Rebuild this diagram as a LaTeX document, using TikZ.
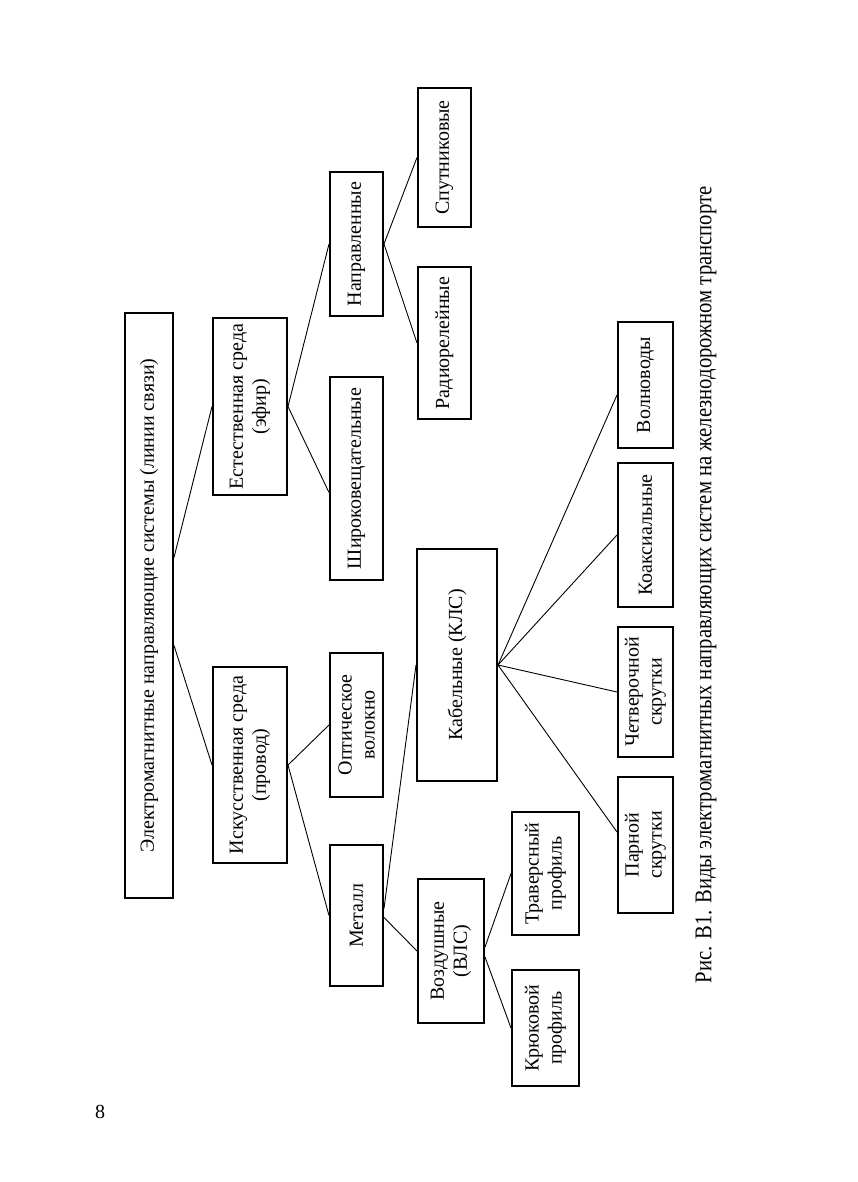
\documentclass[tikz,border=0pt]{standalone}
\usepackage{fontspec}
\setmainfont{Liberation Serif}
\newfontfamily\capfont[FakeStretch=0.86]{Liberation Serif}
\usetikzlibrary{calc}

\begin{document}
\begin{tikzpicture}[x=1pt,y=-1pt,
  blk/.style={draw, line width=2pt, rotate=90, inner sep=0pt, align=center,
    font=\fontsize{20}{23}\selectfont},
  link/.style={line width=0.9pt}]
\useasboundingbox (0,0) rectangle (857,1182);

\node[blk, minimum width=585pt, minimum height=48pt] (root) at (149,605.5) {Электромагнитные направляющие системы (линии связи)};

\node[blk, minimum width=177pt, minimum height=74pt] (est) at (250,406.5) {Естественная среда\\(эфир)};
\node[blk, minimum width=196pt, minimum height=74pt] (isk) at (250,765) {Искусственная среда\\(провод)};

\node[blk, minimum width=144pt, minimum height=53pt] (napr) at (356.5,244) {Направленные};
\node[blk, minimum width=203pt, minimum height=53pt] (shir) at (356.5,478.5) {Широковещательные};
\node[blk, minimum width=144pt, minimum height=53pt] (opt) at (356.5,725) {Оптическое\\волокно};
\node[blk, minimum width=141pt, minimum height=53pt] (metall) at (356.5,915.5) {Металл};

\node[blk, minimum width=139pt, minimum height=53pt] (sput) at (444.5,157.5) {Спутниковые};
\node[blk, minimum width=152pt, minimum height=53pt] (radio) at (444.5,343) {Радиорелейные};
\node[blk, minimum width=232pt, minimum height=80pt] (kab) at (457,665) {Кабельные (КЛС)};
\node[blk, minimum width=144pt, minimum height=66pt] (vozd) at (451,951) {Воздушные\\(ВЛС)};

\node[blk, minimum width=123pt, minimum height=67pt] (trav) at (545.5,873.5) {Траверсный\\профиль};
\node[blk, minimum width=116pt, minimum height=67pt] (kruk) at (545.5,1028) {Крюковой\\профиль};

\node[blk, minimum width=126pt, minimum height=55pt] (volno) at (645.5,385) {Волноводы};
\node[blk, minimum width=144pt, minimum height=55pt] (koax) at (645.5,535) {Коаксиальные};
\node[blk, minimum width=130pt, minimum height=55pt] (chetv) at (645.5,692) {Четверочной\\скрутки};
\node[blk, minimum width=136pt, minimum height=55pt] (parn) at (645.5,845) {Парной\\скрутки};

\draw[link] ($(root.south)+(0,-48)$) -- (est.north);
\draw[link] ($(root.south)+(0,40)$) -- (isk.north);
\draw[link] (est.south) -- (napr.north);
\draw[link] (est.south) -- ($(shir.north)+(0,14)$);
\draw[link] (napr.south) -- (sput.north);
\draw[link] (napr.south) -- (radio.north);
\draw[link] (isk.south) -- (opt.north);
\draw[link] (isk.south) -- (metall.north);
\draw[link] ($(metall.south)+(0,-7)$) -- (kab.north);
\draw[link] ($(metall.south)+(0,2)$) -- (vozd.north);
\draw[link] ($(vozd.south)+(0,-4)$) -- (trav.north);
\draw[link] ($(vozd.south)+(0,6)$) -- (kruk.north);
\draw[link] (kab.south) -- ($(volno.north)+(0,10)$);
\draw[link] (kab.south) -- (koax.north);
\draw[link] (kab.south) -- (chetv.north);
\draw[link] (kab.south) -- ($(parn.north)+(0,-13)$);

\node[rotate=90, font=\capfont\fontsize{24}{28}\selectfont] (cap) at (706,585) {Рис. В1. Виды электромагнитных направляющих систем на железнодорожном транспорте};
\node[font=\fontsize{20}{23}\selectfont] (pg) at (100,1112) {8};

\end{tikzpicture}
\end{document}
